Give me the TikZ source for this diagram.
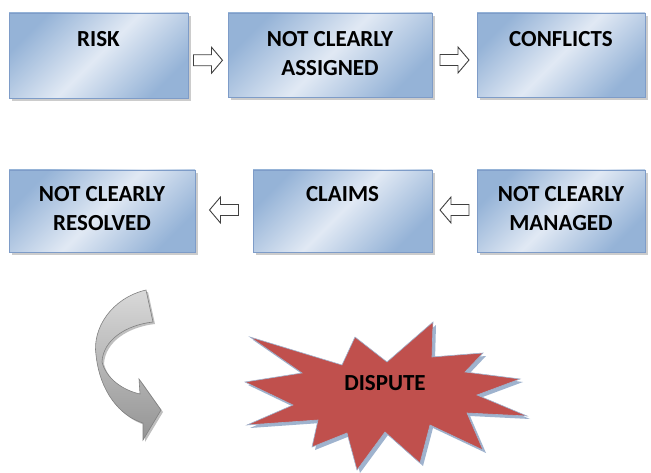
\documentclass[tikz,border=0pt]{standalone}
\usepackage{fontspec}
\setmainfont{Carlito}
\usetikzlibrary{positioning,shadows,calc}
\definecolor{boxdark}{HTML}{95B3D7}
\definecolor{boxlight}{HTML}{E1E9F4}
\definecolor{boxline}{HTML}{7E9CC8}
\definecolor{burst}{HTML}{C0504D}
\definecolor{burstline}{HTML}{9FB3CE}
\tikzset{
  stepbox/.style={draw=boxline, line width=0.6pt, left color=boxdark, right color=boxdark,
    middle color=boxlight, shading angle=45, inner sep=0pt,
    drop shadow={shadow xshift=3pt, shadow yshift=-3pt, fill=black!40}},
  boxtext/.style={font=\bfseries\fontsize{23}{29}\selectfont, align=center, inner sep=0pt, anchor=north},
  hollow/.style={draw=black!75, fill=white, line width=0.9pt, line join=miter},
}
\begin{document}
\begin{tikzpicture}[x=1pt,y=-1pt]
  \useasboundingbox (0,0) rectangle (651,473);
  % the six boxes
  \foreach \name/\cx/\cy/\w/\h/\gap/\txt in {
      risk/98.5/55.5/179/85/19/{RISK},
      assigned/330/55/204/84/19/{NOT CLEARLY\\ASSIGNED},
      conflicts/561/55/168/84/19/{CONFLICTS},
      resolved/102/211/186/82/17/{NOT CLEARLY\\RESOLVED},
      claims/342.5/211/179/82/17/{CLAIMS},
      managed/561/211/168/82/17/{NOT CLEARLY\\MANAGED}}{
    \node[stepbox, minimum width=\w pt, minimum height=\h pt] (\name) at (\cx,\cy) {};
    \node[boxtext, below=\gap pt of \name.north] (\name-t) {\txt};
  }
  % hollow arrows between the boxes
  \coordinate (a1) at ($(risk.east)!.5!(assigned.west)+(0,5)$);
  \coordinate (a2) at ($(assigned.east)!.5!(conflicts.west)+(0,5)$);
  \coordinate (a3) at ($(managed.west)!.5!(claims.east)+(0,-1)$);
  \coordinate (a4) at ($(claims.west)!.5!(resolved.east)+(0,-1)$);
  \foreach \p in {a1,a2}{
    \draw[hollow] (\p) ++(-14.5,-5.5) -- ++(18,0) -- ++(0,-7.5) -- ++(11,13) -- ++(-11,13)
      -- ++(0,-7.5) -- ++(-18,0) -- cycle;
  }
  \foreach \p in {a3,a4}{
    \draw[hollow] (\p) ++(14.5,-5.5) -- ++(-18,0) -- ++(0,-7.5) -- ++(-11,13) -- ++(11,13)
      -- ++(0,-7.5) -- ++(18,0) -- cycle;
  }
  % curved arrow
  \fill[black!25, xshift=2pt, yshift=-2pt]
    (146,290) .. controls (112,298) and (92,328) .. (96,355)
    .. controls (100,392) and (120,416) .. (143,423) -- (143,440) -- (161,410) -- (139,379) -- (140,394)
    .. controls (122,390) and (106,378) .. (102,362) .. controls (103,340) and (126,325) .. (153,322) -- cycle;
  \shade[top color=black!15, bottom color=black!42, draw=black!50, line width=0.6pt]
    (146,290) .. controls (112,298) and (92,328) .. (96,355)
    .. controls (100,392) and (120,416) .. (143,423) -- (143,440) -- (161,410) -- (139,379) -- (140,394)
    .. controls (122,390) and (106,378) .. (102,362) .. controls (103,340) and (126,325) .. (153,322) -- cycle;
  % starburst
  \fill[burstline, xshift=3pt, yshift=-3pt] plot coordinates {(250,337) (342,365) (355,337) (387,362)
    (433,322) (432,357) (483,353) (465,372) (520,379) (477,395) (527,416) (467,413) (483,450)
    (430,425) (420,463) (385,432) (357,470) (347,433) (312,447) (318,420) (247,425) (293,405)
    (245,382) (302,373)} -- cycle;
  \draw[fill=burst, draw=burstline, line width=0.6pt] plot coordinates {(250,337) (342,365) (355,337) (387,362)
    (433,322) (432,357) (483,353) (465,372) (520,379) (477,395) (527,416) (467,413) (483,450)
    (430,425) (420,463) (385,432) (357,470) (347,433) (312,447) (318,420) (247,425) (293,405)
    (245,382) (302,373)} -- cycle;
  \node[font=\bfseries\fontsize{23}{26}\selectfont, inner sep=0pt] (dispute) at (385,383) {DISPUTE};
\end{tikzpicture}
\end{document}
